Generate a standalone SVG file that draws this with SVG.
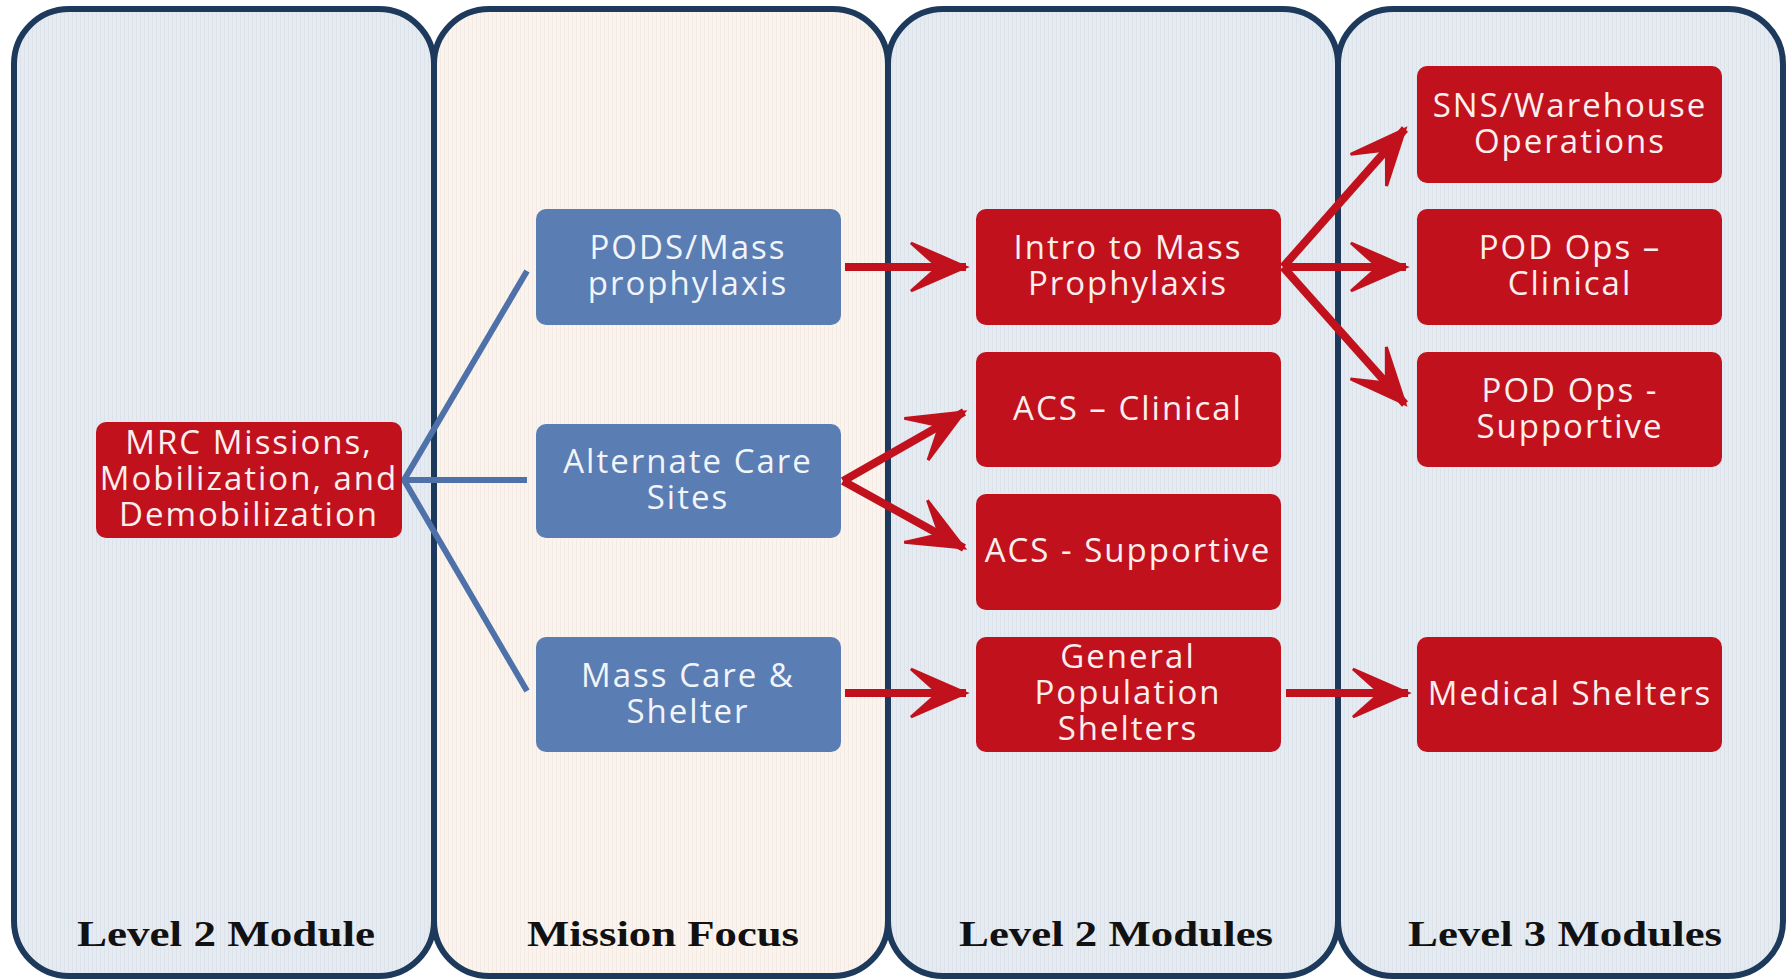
<svg xmlns="http://www.w3.org/2000/svg" width="1790" height="980" viewBox="0 0 1790 980">
<defs>
<pattern id="texB" width="4" height="4" patternUnits="userSpaceOnUse">
<rect width="4" height="4" fill="#e6ebf1"/>
<rect width="1" height="4" fill="#dde3ea"/>
</pattern>
<pattern id="texC" width="4" height="4" patternUnits="userSpaceOnUse">
<rect width="4" height="4" fill="#fbf4ee"/>
<rect width="1" height="4" fill="#f3ebe4"/>
</pattern>
<marker id="ah" markerUnits="userSpaceOnUse" markerWidth="62" markerHeight="56" viewBox="0 0 62 56" refX="58" refY="28" orient="auto">
<path d="M58,28 L3,4 L30,28 L3,52 Z" fill="#c0111c" stroke="#c0111c" stroke-width="3" stroke-linejoin="miter"/>
</marker>
<style>
.panel{stroke:#1d3a5c;stroke-width:6}
.pb{fill:url(#texB)}
.pc{fill:url(#texC)}
.red{fill:#c1111d}
.blue{fill:#5a7db3}
.bt{font-family:"Open Sans","Liberation Sans",sans-serif;font-size:33px;letter-spacing:2px;text-anchor:middle}
.rt{fill:#fbeeee}
.wt{fill:#f1f4f9}
.lbl{font-family:"Liberation Serif","Times New Roman",serif;font-weight:bold;font-size:35px;fill:#111;text-anchor:middle}
.bl{stroke:#4d71a8;stroke-width:6;fill:none}
.ar{stroke:#c0111c;stroke-width:8;fill:none;marker-end:url(#ah)}
</style>
</defs>
<g id="panels">
<rect class="panel pb" x="14" y="9" width="420" height="967" rx="55"/>
<rect class="panel pc" x="434" y="9" width="454" height="967" rx="55"/>
<rect class="panel pb" x="888" y="9" width="450" height="967" rx="55"/>
<rect class="panel pb" x="1338" y="9" width="445" height="967" rx="55"/>
<text class="lbl" x="226" y="946" textLength="298" lengthAdjust="spacingAndGlyphs">Level 2 Module</text>
<text class="lbl" x="663" y="946" textLength="272" lengthAdjust="spacingAndGlyphs">Mission Focus</text>
<text class="lbl" x="1116" y="946" textLength="314" lengthAdjust="spacingAndGlyphs">Level 2 Modules</text>
<text class="lbl" x="1565" y="946" textLength="314" lengthAdjust="spacingAndGlyphs">Level 3 Modules</text>
</g>
<g id="connectors">
<path class="bl" d="M527,271 L404,480 L527,691 M404,480 L527,480"/>
<path class="ar" d="M845,267 L966,267"/>
<path class="ar" d="M843,481 L964,412"/>
<path class="ar" d="M843,481 L964,548"/>
<path class="ar" d="M845,693 L966,693"/>
<path class="ar" d="M1283,267 L1405,129"/>
<path class="ar" d="M1283,267 L1406,267"/>
<path class="ar" d="M1283,267 L1405,404"/>
<path class="ar" d="M1286,693 L1408,693"/>
</g>
<g id="n-mrc">
<rect class="red" x="96" y="422" width="306" height="116" rx="10"/>
<text class="bt rt" x="249" y="454">MRC Missions,</text>
<text class="bt rt" x="249" y="490">Mobilization, and</text>
<text class="bt rt" x="249" y="526">Demobilization</text>
</g>
<g id="n-pods">
<rect class="blue" x="536" y="209" width="305" height="116" rx="10"/>
<text class="bt wt" x="688" y="259">PODS/Mass</text>
<text class="bt wt" x="688" y="295">prophylaxis</text>
</g>
<g id="n-alt">
<rect class="blue" x="536" y="424" width="305" height="114" rx="10"/>
<text class="bt wt" x="688" y="473">Alternate Care</text>
<text class="bt wt" x="688" y="509">Sites</text>
</g>
<g id="n-mass">
<rect class="blue" x="536" y="637" width="305" height="115" rx="10"/>
<text class="bt wt" x="688" y="687">Mass Care &amp;</text>
<text class="bt wt" x="688" y="723">Shelter</text>
</g>
<g id="n-intro">
<rect class="red" x="976" y="209" width="305" height="116" rx="10"/>
<text class="bt rt" x="1128" y="259">Intro to Mass</text>
<text class="bt rt" x="1128" y="295">Prophylaxis</text>
</g>
<g id="n-acs-clin">
<rect class="red" x="976" y="352" width="305" height="115" rx="10"/>
<text class="bt rt" x="1128" y="420">ACS – Clinical</text>
</g>
<g id="n-acs-sup">
<rect class="red" x="976" y="494" width="305" height="116" rx="10"/>
<text class="bt rt" x="1128" y="562">ACS - Supportive</text>
</g>
<g id="n-genpop">
<rect class="red" x="976" y="637" width="305" height="115" rx="10"/>
<text class="bt rt" x="1128" y="668">General</text>
<text class="bt rt" x="1128" y="704">Population</text>
<text class="bt rt" x="1128" y="740">Shelters</text>
</g>
<g id="n-sns">
<rect class="red" x="1417" y="66" width="305" height="117" rx="10"/>
<text class="bt rt" x="1570" y="117">SNS/Warehouse</text>
<text class="bt rt" x="1570" y="153">Operations</text>
</g>
<g id="n-pod-clin">
<rect class="red" x="1417" y="209" width="305" height="116" rx="10"/>
<text class="bt rt" x="1570" y="259">POD Ops –</text>
<text class="bt rt" x="1570" y="295">Clinical</text>
</g>
<g id="n-pod-sup">
<rect class="red" x="1417" y="352" width="305" height="115" rx="10"/>
<text class="bt rt" x="1570" y="402">POD Ops -</text>
<text class="bt rt" x="1570" y="438">Supportive</text>
</g>
<g id="n-medical">
<rect class="red" x="1417" y="637" width="305" height="115" rx="10"/>
<text class="bt rt" x="1570" y="705">Medical Shelters</text>
</g>
</svg>
